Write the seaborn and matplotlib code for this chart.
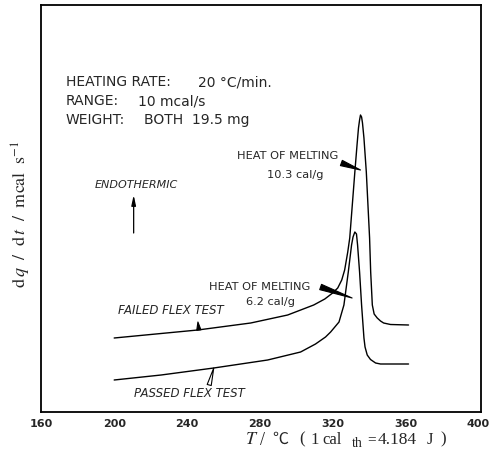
import matplotlib
matplotlib.use("Agg")
import matplotlib.pyplot as plt
import seaborn as sns
import pandas as pd

# ---- data (y in arbitrary units) ----
failed_T = [200, 222.9, 245.9, 275.0, 295.3, 309.6, 315.7, 320.0, 322.8, 325.0, 326.6,
            328.3, 329.4, 330.8, 332.2, 333.4, 334.2, 334.8, 335.3, 335.9, 336.4,
            337.2, 338.5, 339.4, 340.3, 340.9, 341.8, 342.8, 344.5, 346.3, 348.0,
            351.8, 361.7]
failed_y = [7.4, 7.8, 8.2, 8.9, 9.7, 10.7, 11.3, 11.9, 12.4, 13.2, 14.2,
            16.0, 17.4, 20.7, 24.0, 26.7, 28.4, 29.2, 29.7, 29.5, 28.9,
            27.4, 24.0, 20.7, 17.4, 14.0, 10.7, 9.8, 9.4, 9.1, 8.9,
            8.75, 8.7]

passed_T = [200, 225.8, 254.7, 284.3, 302.4, 310.6, 316.1, 318.9, 323.5, 326.2, 328.6,
            330.4, 331.2, 332.2, 333.1, 333.7, 334.8, 335.9, 337.2, 337.8, 339.0,
            340.8, 343.6, 346.3, 361.7]
passed_y = [3.2, 3.7, 4.4, 5.2, 6.0, 6.8, 7.5, 8.0, 9.0, 10.7, 14.0,
            16.7, 17.5, 18.0, 17.8, 16.7, 14.0, 10.7, 7.4, 6.5, 5.7,
            5.25, 4.9, 4.8, 4.8]

x_ticks = [160, 200, 240, 280, 320, 360, 400]
x_tick_labels = ["160", "200", "240", "280", "320", "360", "400"]

info_keys = ["HEATING RATE:", "RANGE:", "WEIGHT:"]
info_vals = ["20 \u00b0C/min.", "10 mcal/s", "BOTH  19.5 mg"]

df = pd.concat([
    pd.DataFrame({"T": failed_T, "y": failed_y, "sample": "failed"}),
    pd.DataFrame({"T": passed_T, "y": passed_y, "sample": "passed"}),
])

sns.set_style("white")
plt.rcParams["font.family"] = ["DejaVu Sans"]
plt.rcParams["mathtext.fontset"] = "stix"

W, H = 494, 461
fig = plt.figure(figsize=(W / 100, H / 100), dpi=100)
ax = fig.add_axes([41 / W, 1 - 412 / H, 440 / W, 407 / H])

sns.lineplot(data=df, x="T", y="y", units="sample", estimator=None, sort=False,
             color="black", linewidth=1.0, ax=ax, legend=False)

ax.set_xlim(159.8, 401.5)
ax.set_ylim(0, 40.7)
ax.set_xticks(x_ticks)
ax.set_xticklabels(x_tick_labels, fontsize=8, fontweight="bold")
ax.set_yticks([])
ax.tick_params(axis="x", direction="in", length=8, width=1.0, pad=5, color="black")
for s in ax.spines.values():
    s.set_visible(True)
    s.set_color("black")
    s.set_linewidth(1.3)
ax.set_xlabel("")
ax.set_ylabel("")

# ---- x label, assembled piece by piece (figure pixel positions) ----
def ftext(px, py, s, **kw):
    fig.text(px / W, 1 - py / H, s, va="baseline", ha="left", **kw)

serif = ["Liberation Serif", "DejaVu Serif"]
base = 443.5
ftext(245, base, r"$T$", fontsize=13)
ftext(260, base + 1, "/", fontsize=13, family=serif)
ftext(272, base, "\u2103", fontsize=11.5, family=["Noto Sans CJK JP"])
ftext(299, base, "(", fontsize=12, family=serif)
ftext(310, base, "1", fontsize=12, family=serif)
ftext(322, base, "cal", fontsize=12, family=serif)
ftext(352, base + 3.5, "th", fontsize=10, family=serif)
ftext(367, base, "=", fontsize=11, family=serif)
ftext(378, base, "4.184", fontsize=12.5, family=serif)
ftext(427, base, "J", fontsize=12, family=serif)
ftext(440, base, ")", fontsize=12, family=serif)

# ---- y label ----
fig.text(21 / W, 1 - 214 / H,
         r"$\mathrm{d}\,q\ \ /\ \ \mathrm{d}\,t\ \ /\ \ \mathrm{m c a l}\ \ \mathrm{s}^{-1}$",
         rotation=90, ha="center", va="center", fontsize=13)

# ---- info block ----
info_y = [33.0, 31.1, 29.25]
val_x = [246.0, 213.1, 216.4]
for k, v, yy, vx in zip(info_keys, info_vals, info_y, val_x):
    ax.text(173.5, yy, k, ha="left", va="center", fontsize=10)
    ax.text(vx, yy, v, ha="left", va="center", fontsize=10)

# ---- annotations ----
ax.text(323.3, 25.6, "HEAT OF MELTING", ha="right", va="center", fontsize=8.2)
ax.text(299.7, 23.7, "10.3 cal/g", ha="center", va="center", fontsize=8.2)
ax.annotate("", xy=(335.3, 24.2), xytext=(324.8, 24.9),
            arrowprops=dict(arrowstyle="wedge,tail_width=0.4,shrink_factor=0.5",
                            color="black", lw=0.8, shrinkA=0, shrinkB=0))

ax.text(280.0, 12.5, "HEAT OF MELTING", ha="center", va="center", fontsize=8.2)
ax.text(286.1, 11.0, "6.2 cal/g", ha="center", va="center", fontsize=8.2)
ax.annotate("", xy=(330.7, 11.4), xytext=(313.4, 12.5),
            arrowprops=dict(arrowstyle="wedge,tail_width=0.4,shrink_factor=0.5",
                            color="black", lw=0.8, shrinkA=0, shrinkB=0))

ax.text(231.1, 10.2, "FAILED FLEX TEST", ha="center", va="center", fontsize=8.5, style="italic")
ax.annotate("", xy=(246.0, 9.0), xytext=(246.5, 8.2),
            arrowprops=dict(arrowstyle="wedge,tail_width=0.3,shrink_factor=0.5",
                            color="black", lw=0.8, shrinkA=0, shrinkB=0))

ax.text(241.5, 1.9, "PASSED FLEX TEST", ha="center", va="center", fontsize=8.5, style="italic")
ax.annotate("", xy=(254.7, 4.4), xytext=(252.2, 2.7),
            arrowprops=dict(arrowstyle="wedge,tail_width=0.3,shrink_factor=0.5",
                            fc="white", ec="black", lw=0.8, shrinkA=0, shrinkB=0))

ax.text(212.0, 22.7, "ENDOTHERMIC", ha="center", va="center", fontsize=8, style="italic")
ax.annotate("", xy=(210.7, 21.7), xytext=(210.7, 17.9),
            arrowprops=dict(arrowstyle="-|>,head_length=0.6,head_width=0.13",
                            color="black", lw=0.9, shrinkA=0, shrinkB=0))

fig.savefig("out.png", dpi=100)
